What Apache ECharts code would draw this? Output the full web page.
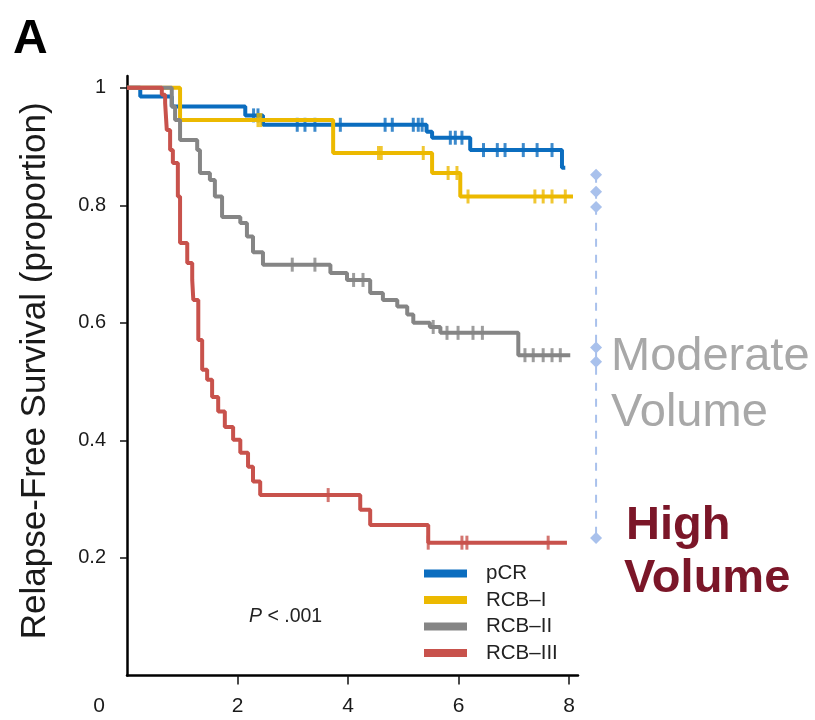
<!DOCTYPE html>
<html>
<head>
<meta charset="utf-8">
<script src="https://cdn.jsdelivr.net/npm/echarts@6/dist/echarts.min.js"></script>
<style>html,body{margin:0;padding:0;background:#fff;}#main{width:815px;height:720px;}</style>
</head>
<body>
<div id="main"></div>
<script>
// ---- Data (time in years, relapse-free survival proportion) ----
const seriesNames = ['pCR', 'RCB\u2013I', 'RCB\u2013II', 'RCB\u2013III'];
const xTicks = [0, 2, 4, 6, 8];
const yTicks = [0.2, 0.4, 0.6, 0.8, 1];

// KM step events: [time, survival after event]; first = start, last = end of follow-up
const pcrSteps = [[0, 1], [0.24, 0.985], [0.81, 0.968], [2.14, 0.953], [2.46, 0.937], [5.42, 0.925], [5.52, 0.915], [6.21, 0.894], [7.87, 0.864], [7.93, 0.864]];
const rcb1Steps = [[0, 1], [0.96, 0.945], [3.73, 0.889], [5.52, 0.855], [6.03, 0.815], [8.07, 0.815]];
const rcb2Steps = [[0, 1], [0.81, 0.968], [0.87, 0.945], [0.96, 0.911], [1.27, 0.894], [1.32, 0.855], [1.5, 0.843], [1.59, 0.815], [1.72, 0.78], [2.05, 0.77], [2.17, 0.747], [2.28, 0.72], [2.46, 0.699], [3.68, 0.685], [3.98, 0.673], [4.4, 0.651], [4.63, 0.639], [4.89, 0.628], [5.07, 0.614], [5.18, 0.6], [5.48, 0.593], [5.67, 0.583], [7.08, 0.545], [8.02, 0.545]];
const rcb3Steps = [[0, 1], [0.63, 0.988], [0.69, 0.974], [0.72, 0.928], [0.78, 0.894], [0.83, 0.872], [0.92, 0.815], [0.96, 0.736], [1.09, 0.702], [1.18, 0.673], [1.2, 0.639], [1.29, 0.571], [1.36, 0.52], [1.45, 0.503], [1.54, 0.474], [1.65, 0.449], [1.77, 0.423], [1.92, 0.401], [2.05, 0.379], [2.19, 0.355], [2.28, 0.33], [2.41, 0.307], [4.22, 0.282], [4.4, 0.256], [5.45, 0.226], [7.96, 0.226]];

// censoring times
const pcrCensor = [2.29, 2.37, 3.08, 3.22, 3.4, 3.86, 4.67, 4.8, 5.18, 5.27, 5.34, 5.85, 5.94, 6.06, 6.45, 6.7, 6.84, 7.17, 7.42, 7.69];
const rcb1Censor = [2.37, 2.42, 4.55, 4.6, 5.36, 5.81, 5.97, 6.17, 7.38, 7.53, 7.69, 7.93];
const rcb2Censor = [2.99, 3.4, 4.1, 4.27, 5.54, 5.79, 5.99, 6.26, 6.43, 7.2, 7.35, 7.53, 7.69, 7.84];
const rcb3Censor = [3.64, 5.45, 6.06, 6.15, 7.62];

// annotation bracket (diamonds) to the right of the curves
const bracketX = 8.49;
const bracketY = [0.852, 0.823, 0.797, 0.558, 0.534, 0.234];

const colors = ['#0b6dbf', '#ecb900', '#858585', '#c8524c'];

function survivalAt(steps, t) {
  let s = steps[0][1];
  for (const p of steps) { if (p[0] <= t) s = p[1]; else break; }
  return s;
}
const allSteps = [pcrSteps, rcb1Steps, rcb2Steps, rcb3Steps];
const allCensor = [pcrCensor, rcb1Censor, rcb2Censor, rcb3Censor];

const FONT = 'Liberation Sans, Arial, sans-serif';
const series = [];
allSteps.forEach((steps, i) => {
  series.push({
    name: seriesNames[i], type: 'line', step: 'end', data: steps,
    showSymbol: false, symbol: 'none', z: 2 + i,
    lineStyle: { color: colors[i], width: 4 }, itemStyle: { color: colors[i] },
    emphasis: { disabled: true }, silent: true
  });
});
allCensor.forEach((cs, i) => {
  series.push({
    name: seriesNames[i] + ' censored', type: 'scatter',
    data: cs.map(t => [t, survivalAt(allSteps[i], t)]),
    symbol: 'rect', symbolSize: [3, 14], z: 2 + i,
    itemStyle: { color: colors[i] }, silent: true
  });
});
series.push({
  name: 'bracket', type: 'line', xAxisIndex: 1, yAxisIndex: 1, silent: true,
  data: bracketY.map(v => [bracketX, v]),
  symbol: 'diamond', symbolSize: [12, 12], showSymbol: true,
  lineStyle: { color: '#a9c1ec', width: 2, type: [8, 8] },
  itemStyle: { color: '#a9c1ec' }
});

const chart = echarts.init(document.getElementById('main'), null, { renderer: 'canvas' });
chart.setOption({
  animation: false,
  backgroundColor: '#fff',
  textStyle: { fontFamily: FONT },
  grid: [
    { left: 127, right: 237, top: 76, bottom: 44.5, containLabel: false },
    { left: 127, right: 175, top: 76, bottom: 44.5, containLabel: false }
  ],
  xAxis: [{
    type: 'value', min: 0, max: 8.16, interval: 2,
    axisLine: { lineStyle: { color: '#000', width: 2.5 } },
    axisTick: { show: true, length: 9, customValues: [2, 4, 6, 8], lineStyle: { color: '#111', width: 1.5 } },
    axisLabel: {
      customValues: xTicks, margin: 20, fontSize: 21, color: '#1a1a1a', fontFamily: FONT,
      formatter: v => v === 0 ? '{z|0}' : String(v),
      rich: { z: { fontSize: 21, color: '#1a1a1a', fontFamily: FONT, padding: [0, 56, 0, 0] } }
    },
    splitLine: { show: false }
  }, {
    gridIndex: 1, type: 'value', min: 0, max: (640 - 127) / 55.25, show: false
  }],
  yAxis: [{
    type: 'value', min: 0, max: 1.02,
    name: 'Relapse-Free Survival (proportion)', nameLocation: 'middle', nameGap: 74,
    nameTextStyle: { fontSize: 35, color: '#1a1a1a', fontFamily: FONT, padding: [0, 0, 0, 10] },
    axisLine: { lineStyle: { color: '#000', width: 2.5 } },
    axisTick: { show: true, length: 7, customValues: yTicks, lineStyle: { color: '#111', width: 1.5 } },
    axisLabel: {
      customValues: yTicks, margin: 21, fontSize: 20, color: '#1a1a1a', fontFamily: FONT,
      formatter: v => v === 1 ? '1' : v.toFixed(1)
    },
    splitLine: { show: false }
  }, {
    gridIndex: 1, type: 'value', min: 0, max: 1.02, show: false
  }],
  legend: {
    data: seriesNames, orient: 'vertical', left: 424, top: 563, padding: 0,
    icon: 'rect', itemWidth: 43, itemHeight: 8, itemGap: 5.5,
    textStyle: { fontSize: 20.5, color: '#222', fontFamily: FONT, padding: [0, 0, 0, 14] },
    selectedMode: false
  },
  graphic: [
    { type: 'text', left: 13, top: 16, style: { text: 'A', font: 'bold 48px ' + FONT, fill: '#000' } },
    { type: 'text', x: 249, y: 617, style: { text: '{i|P} < .001', verticalAlign: 'middle', rich: { i: { fontStyle: 'italic', fontSize: 19.5, fontFamily: FONT, fill: '#222' } }, font: '19.5px ' + FONT, fill: '#222' } },
    { type: 'text', x: 611, y: 334, style: { text: 'Moderate', font: '47px ' + FONT, fill: '#a8a8a8', verticalAlign: 'top' } },
    { type: 'text', x: 611, y: 390, style: { text: 'Volume', font: '47px ' + FONT, fill: '#a8a8a8', verticalAlign: 'top' } },
    { type: 'text', x: 626, y: 503, style: { text: 'High', font: 'bold 47px ' + FONT, fill: '#7b1628', verticalAlign: 'top' } },
    { type: 'text', x: 624, y: 556, style: { text: 'Volume', font: 'bold 47px ' + FONT, fill: '#7b1628', verticalAlign: 'top' } }
  ],
  series: series
});
</script>
</body>
</html>
